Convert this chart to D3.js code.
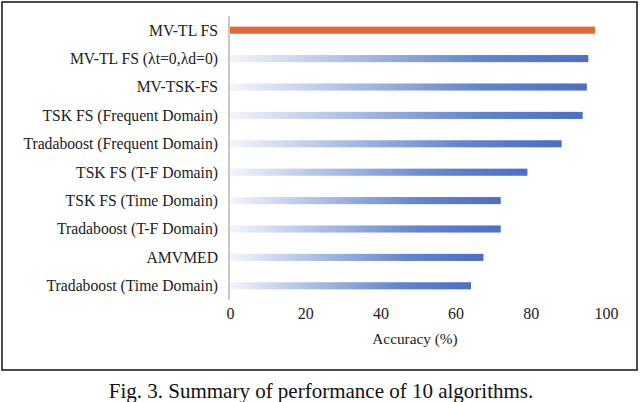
<!DOCTYPE html>
<html><head><meta charset="utf-8">
<script src="https://cdn.jsdelivr.net/npm/d3@7"></script>
<style>body{margin:0;background:#fff;}svg{display:block;}</style>
</head><body>
<svg id="chart" width="640" height="402"></svg>
<script>
const categories = ["MV-TL FS","MV-TL FS (\u03bbt=0,\u03bbd=0)","MV-TSK-FS","TSK FS (Frequent Domain)","Tradaboost (Frequent Domain)","TSK FS (T-F Domain)","TSK FS (Time Domain)","Tradaboost (T-F Domain)","AMVMED","Tradaboost (Time Domain)"];
const accuracy = [97.1,95.3,94.9,93.8,88.2,79.1,72.0,72.0,67.4,64.1];
const highlighted = ["MV-TL FS"];
const xTicks = [0,20,40,60,80,100];
const axisTitle = "Accuracy (%)";
const caption = "Fig. 3. Summary of performance of 10 algorithms.";

const svg = d3.select("#chart");
const font = "Liberation Serif, serif";

const defs = svg.append("defs");
const grad = defs.append("linearGradient").attr("id","blueGrad").attr("x1","0").attr("x2","1").attr("y1","0").attr("y2","0");
grad.append("stop").attr("offset","0").attr("stop-color","#f2f5fb");
grad.append("stop").attr("offset","0.35").attr("stop-color","#a9bce5");
grad.append("stop").attr("offset","0.7").attr("stop-color","#6285cd");
grad.append("stop").attr("offset","1").attr("stop-color","#4a6fc5");

svg.append("rect").attr("x",2).attr("y",2).attr("width",635).attr("height",368)
  .attr("fill","#fff").attr("stroke","#111").attr("stroke-width",1.5);

const x = d3.scaleLinear().domain([0,100]).range([230,606]);
const y = d3.scaleBand().domain(categories).range([16,300]).paddingInner(0.75).paddingOuter(0.375);

svg.append("g").selectAll("rect").data(categories).join("rect")
  .attr("x", x(0))
  .attr("y", d => y(d))
  .attr("width", (d,i) => x(accuracy[i]) - x(0))
  .attr("height", y.bandwidth())
  .attr("fill", d => highlighted.includes(d) ? "#e36a35" : "url(#blueGrad)");

svg.append("line").attr("x1",229).attr("x2",229).attr("y1",16).attr("y2",300)
  .attr("stroke","#c8c8c8").attr("stroke-width",2);

svg.append("g").selectAll("text").data(categories).join("text")
  .attr("x",218).attr("y", d => y(d) + y.bandwidth()/2)
  .attr("dy","0.35em").attr("text-anchor","end")
  .style("font-family",font).style("font-size","15.7px").attr("fill","#222")
  .text(d => d);

const xAxis = d3.axisBottom(x).tickValues(xTicks).tickSize(0).tickPadding(0);
const gx = svg.append("g").attr("transform","translate(0,308)").call(xAxis);
gx.select(".domain").remove();
gx.selectAll("text").style("font-family",font).style("font-size","16px").attr("fill","#222").attr("dy","0.71em");

svg.append("text").attr("x",415).attr("y",344).attr("text-anchor","middle")
  .style("font-family",font).style("font-size","15.3px").attr("fill","#222").text(axisTitle);

svg.append("text").attr("x",321).attr("y",398).attr("text-anchor","middle")
  .style("font-family",font).style("font-size","21px").attr("fill","#111").text(caption);
</script>
</body></html>
